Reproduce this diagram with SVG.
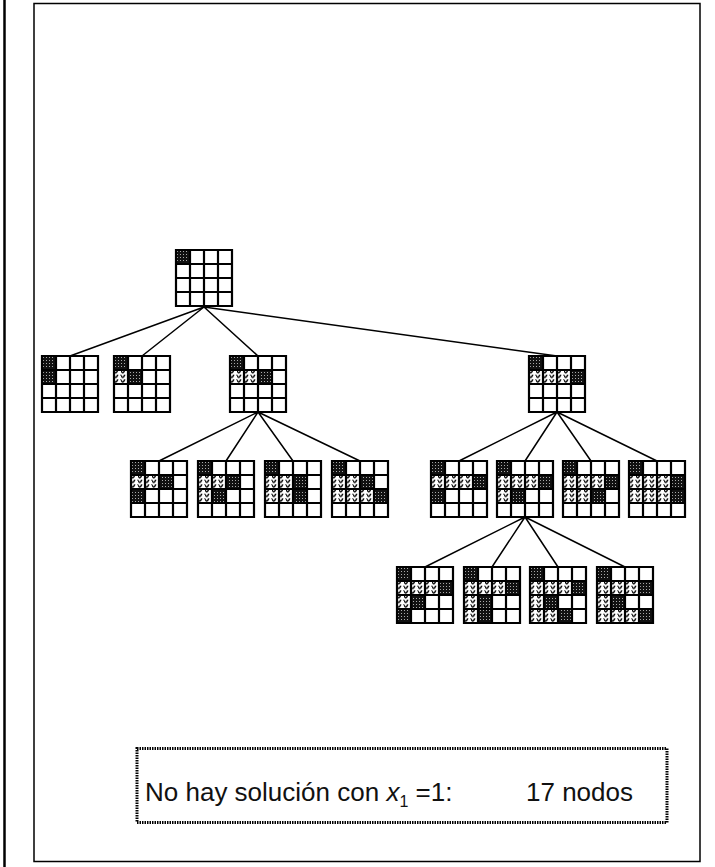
<svg xmlns="http://www.w3.org/2000/svg" xmlns:xlink="http://www.w3.org/1999/xlink" width="715" height="867" viewBox="0 0 715 867">
  <style>
    .frame { fill: none; stroke: #000; stroke-width: 1.5; }
    .edge { stroke: #000; stroke-width: 1.5; fill: none; }
    .grid { fill: none; stroke: #000; stroke-width: 2.2; }
    .bg { fill: #fff; }
    .q { fill: url(#queen); }
    .w { fill: url(#wave); }
    .label { font-family: "Liberation Sans", Arial, sans-serif; font-size: 26px; fill: #111; }
  </style>
  <defs>
    <!-- dark stippled fill for a placed queen -->
    <pattern id="queen" width="3" height="3" patternUnits="userSpaceOnUse">
      <rect width="3" height="3" fill="#111"/>
      <rect x="1" y="1" width="1" height="1" fill="#aaa"/>
    </pattern>
    <!-- wavy fill for a rejected square -->
    <pattern id="wave" width="7" height="4.67" patternUnits="userSpaceOnUse">
      <rect width="7" height="4.67" fill="#fff"/>
      <path d="M0 0.6 Q1.75 5 3.5 0.6 T7 0.6" fill="none" stroke="#000" stroke-width="1.4"/>
    </pattern>
    <!-- 4x4 board lines -->
    <path id="board" class="grid" d="M0 0H56V56H0Z M14 0V56 M28 0V56 M42 0V56 M0 14H56 M0 28H56 M0 42H56"/>
    <rect id="blank" class="bg" width="56" height="56"/>
  </defs>

  <!-- page frame -->
  <line x1="4.5" y1="0" x2="4.5" y2="867" stroke="#000" stroke-width="2.5"/>
  <rect class="frame" x="34" y="3.5" width="666" height="858"/>

  <!-- connectors -->
  <g id="connectors">
    <path class="edge" d="M204 307L70 356 M204 307L142 356 M204 307L258 356 M204 307L557 356"/>
    <path class="edge" d="M258 412L159 461 M258 412L226 461 M258 412L293 461 M258 412L360 461"/>
    <path class="edge" d="M557 412L459 461 M557 412L525 461 M557 412L591 461 M557 412L657 461"/>
    <path class="edge" d="M525 517L425 567 M525 517L492 567 M525 517L558 567 M525 517L625 567"/>
  </g>

  <!-- root -->
  <g id="n0" transform="translate(176 250)">
    <use xlink:href="#blank"/>
    <rect class="q" x="0" y="0" width="14" height="14"/>
    <use xlink:href="#board"/>
  </g>

  <!-- level 1 -->
  <g id="n1" transform="translate(42 356)">
    <use xlink:href="#blank"/>
    <rect class="q" x="0" y="0" width="14" height="14"/>
    <rect class="q" x="0" y="14" width="14" height="14"/>
    <use xlink:href="#board"/>
  </g>
  <g id="n2" transform="translate(114 356)">
    <use xlink:href="#blank"/>
    <rect class="q" x="0" y="0" width="14" height="14"/>
    <rect class="w" x="0" y="14" width="14" height="14"/>
    <rect class="q" x="14" y="14" width="14" height="14"/>
    <use xlink:href="#board"/>
  </g>
  <g id="n3" transform="translate(230 356)">
    <use xlink:href="#blank"/>
    <rect class="q" x="0" y="0" width="14" height="14"/>
    <rect class="w" x="0" y="14" width="28" height="14"/>
    <rect class="q" x="28" y="14" width="14" height="14"/>
    <use xlink:href="#board"/>
  </g>
  <g id="n4" transform="translate(529 356)">
    <use xlink:href="#blank"/>
    <rect class="q" x="0" y="0" width="14" height="14"/>
    <rect class="w" x="0" y="14" width="42" height="14"/>
    <rect class="q" x="42" y="14" width="14" height="14"/>
    <use xlink:href="#board"/>
  </g>

  <!-- level 2, under n3 -->
  <g id="n5" transform="translate(131 461)">
    <use xlink:href="#blank"/>
    <rect class="q" x="0" y="0" width="14" height="14"/>
    <rect class="w" x="0" y="14" width="28" height="14"/>
    <rect class="q" x="28" y="14" width="14" height="14"/>
    <rect class="q" x="0" y="28" width="14" height="14"/>
    <use xlink:href="#board"/>
  </g>
  <g id="n6" transform="translate(198 461)">
    <use xlink:href="#blank"/>
    <rect class="q" x="0" y="0" width="14" height="14"/>
    <rect class="w" x="0" y="14" width="28" height="14"/>
    <rect class="q" x="28" y="14" width="14" height="14"/>
    <rect class="w" x="0" y="28" width="14" height="14"/>
    <rect class="q" x="14" y="28" width="14" height="14"/>
    <use xlink:href="#board"/>
  </g>
  <g id="n7" transform="translate(265 461)">
    <use xlink:href="#blank"/>
    <rect class="q" x="0" y="0" width="14" height="14"/>
    <rect class="w" x="0" y="14" width="28" height="14"/>
    <rect class="q" x="28" y="14" width="14" height="14"/>
    <rect class="w" x="0" y="28" width="28" height="14"/>
    <rect class="q" x="28" y="28" width="14" height="14"/>
    <use xlink:href="#board"/>
  </g>
  <g id="n8" transform="translate(332 461)">
    <use xlink:href="#blank"/>
    <rect class="q" x="0" y="0" width="14" height="14"/>
    <rect class="w" x="0" y="14" width="28" height="14"/>
    <rect class="q" x="28" y="14" width="14" height="14"/>
    <rect class="w" x="0" y="28" width="42" height="14"/>
    <rect class="q" x="42" y="28" width="14" height="14"/>
    <use xlink:href="#board"/>
  </g>

  <!-- level 2, under n4 -->
  <g id="n9" transform="translate(431 461)">
    <use xlink:href="#blank"/>
    <rect class="q" x="0" y="0" width="14" height="14"/>
    <rect class="w" x="0" y="14" width="42" height="14"/>
    <rect class="q" x="42" y="14" width="14" height="14"/>
    <rect class="q" x="0" y="28" width="14" height="14"/>
    <use xlink:href="#board"/>
  </g>
  <g id="n10" transform="translate(497 461)">
    <use xlink:href="#blank"/>
    <rect class="q" x="0" y="0" width="14" height="14"/>
    <rect class="w" x="0" y="14" width="42" height="14"/>
    <rect class="q" x="42" y="14" width="14" height="14"/>
    <rect class="w" x="0" y="28" width="14" height="14"/>
    <rect class="q" x="14" y="28" width="14" height="14"/>
    <use xlink:href="#board"/>
  </g>
  <g id="n11" transform="translate(563 461)">
    <use xlink:href="#blank"/>
    <rect class="q" x="0" y="0" width="14" height="14"/>
    <rect class="w" x="0" y="14" width="42" height="14"/>
    <rect class="q" x="42" y="14" width="14" height="14"/>
    <rect class="w" x="0" y="28" width="28" height="14"/>
    <rect class="q" x="28" y="28" width="14" height="14"/>
    <use xlink:href="#board"/>
  </g>
  <g id="n12" transform="translate(629 461)">
    <use xlink:href="#blank"/>
    <rect class="q" x="0" y="0" width="14" height="14"/>
    <rect class="w" x="0" y="14" width="42" height="14"/>
    <rect class="q" x="42" y="14" width="14" height="14"/>
    <rect class="w" x="0" y="28" width="42" height="14"/>
    <rect class="q" x="42" y="28" width="14" height="14"/>
    <use xlink:href="#board"/>
  </g>

  <!-- level 3, under n10 -->
  <g id="n13" transform="translate(397 567)">
    <use xlink:href="#blank"/>
    <rect class="q" x="0" y="0" width="14" height="14"/>
    <rect class="w" x="0" y="14" width="42" height="14"/>
    <rect class="q" x="42" y="14" width="14" height="14"/>
    <rect class="w" x="0" y="28" width="14" height="14"/>
    <rect class="q" x="14" y="28" width="14" height="14"/>
    <rect class="q" x="0" y="42" width="14" height="14"/>
    <use xlink:href="#board"/>
  </g>
  <g id="n14" transform="translate(464 567)">
    <use xlink:href="#blank"/>
    <rect class="q" x="0" y="0" width="14" height="14"/>
    <rect class="w" x="0" y="14" width="42" height="14"/>
    <rect class="q" x="42" y="14" width="14" height="14"/>
    <rect class="w" x="0" y="28" width="14" height="14"/>
    <rect class="q" x="14" y="28" width="14" height="14"/>
    <rect class="w" x="0" y="42" width="14" height="14"/>
    <rect class="q" x="14" y="42" width="14" height="14"/>
    <use xlink:href="#board"/>
  </g>
  <g id="n15" transform="translate(530 567)">
    <use xlink:href="#blank"/>
    <rect class="q" x="0" y="0" width="14" height="14"/>
    <rect class="w" x="0" y="14" width="42" height="14"/>
    <rect class="q" x="42" y="14" width="14" height="14"/>
    <rect class="w" x="0" y="28" width="14" height="14"/>
    <rect class="q" x="14" y="28" width="14" height="14"/>
    <rect class="w" x="0" y="42" width="28" height="14"/>
    <rect class="q" x="28" y="42" width="14" height="14"/>
    <use xlink:href="#board"/>
  </g>
  <g id="n16" transform="translate(597 567)">
    <use xlink:href="#blank"/>
    <rect class="q" x="0" y="0" width="14" height="14"/>
    <rect class="w" x="0" y="14" width="42" height="14"/>
    <rect class="q" x="42" y="14" width="14" height="14"/>
    <rect class="w" x="0" y="28" width="14" height="14"/>
    <rect class="q" x="14" y="28" width="14" height="14"/>
    <rect class="w" x="0" y="42" width="42" height="14"/>
    <rect class="q" x="42" y="42" width="14" height="14"/>
    <use xlink:href="#board"/>
  </g>

  <!-- summary box -->
  <g id="summary">
    <rect x="137" y="748.5" width="530" height="74" fill="none" stroke="#000" stroke-width="3" stroke-dasharray="1.5 1"/>
    <text class="label" y="801">
      <tspan x="145">No hay solución con </tspan><tspan font-style="italic">x</tspan><tspan dy="6" font-size="16">1</tspan><tspan dy="-6"> =1:</tspan><tspan x="526">17 nodos</tspan>
    </text>
  </g>
</svg>
